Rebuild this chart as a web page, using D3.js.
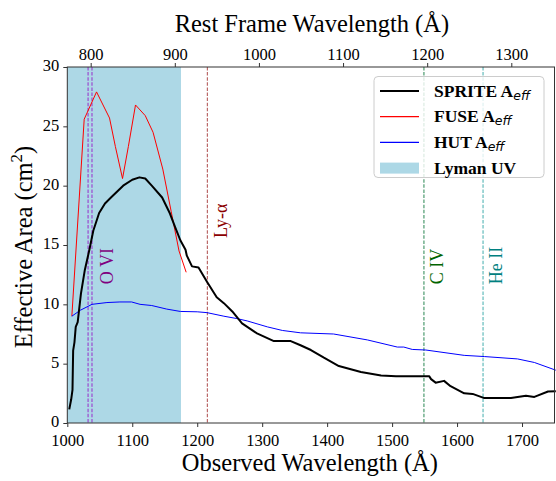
<!DOCTYPE html>
<html><head><meta charset="utf-8">
<script src="https://cdn.jsdelivr.net/npm/d3@7"></script>
<style>body{margin:0;background:#fff}svg{display:block}text{font-family:"Liberation Serif","Times New Roman",serif}</style>
</head><body><svg id="c" width="556" height="481"></svg>
<script>
const spriteWl = [1003,1006,1008,1009,1011,1013,1016,1021,1027,1034,1040,1049,1058,1068,1086,1100,1111,1120,1130,1146,1158,1166,1174,1182,1184,1192,1202,1215,1230,1241,1254,1269,1292,1318,1344,1359,1375,1395,1418,1452,1483,1506,1557,1560,1567,1580,1590,1611,1624,1642,1683,1706,1719,1740,1752];
const spriteA  = [1.15,2.0,2.8,6.1,6.8,8.1,8.5,10.9,12.9,14.6,16.2,17.7,18.5,19.05,20.0,20.5,20.7,20.6,20.0,19.0,17.65,16.5,15.4,14.6,14.1,13.2,13.1,11.9,10.6,10.1,9.4,8.4,7.55,6.9,6.9,6.55,6.15,5.5,4.8,4.3,4.0,3.95,3.95,3.7,3.4,3.55,3.1,2.5,2.45,2.1,2.1,2.3,2.2,2.65,2.67];
const fuseWl = [1007,1026,1045,1065,1074,1085,1094,1105,1120,1132,1147,1160,1172,1183];
const fuseA  = [9.0,25.6,27.9,25.7,23.3,20.6,23.3,26.8,25.9,24.5,21.4,17.8,14.5,12.7];
const hutWl = [1007,1020,1038,1061,1081,1099,1112,1130,1153,1174,1200,1215,1241,1261,1277,1308,1331,1359,1410,1462,1508,1518,1531,1552,1611,1642,1693,1719,1752];
const hutA  = [9.0,9.5,10.0,10.15,10.2,10.2,10.0,9.9,9.6,9.4,9.37,9.3,9.0,8.8,8.6,8.1,7.8,7.6,7.5,7.0,6.4,6.4,6.2,6.15,5.7,5.6,5.4,5.1,4.45];
const lymanBand = [1000,1175];
const lineNames = ["O VI","","Ly-α","C IV","He II"];
const lineWl = [1032,1038,1215.67,1549,1640];
const lineLabelY = [11.7,0,15.6,11.7,11.7];
const lineColors = ["#9932cc","#9932cc","#b05050","#2e8b57","#48b0b0"];
const textColors = ["#800080","#800080","#8b0000","#006400","#008080"];
const xTicks = [1000,1100,1200,1300,1400,1500,1600,1700];
const topTicks = [800,900,1000,1100,1200,1300];
const yTicks = [0,5,10,15,20,25,30];
const onePlusZ = 1.295;
const legendNames = ["SPRITE A","FUSE A","HUT A","Lyman UV"];

const svg = d3.select("#c");
const L=67.3,R=554.5,T=67,B=423;
const x = d3.scaleLinear().domain([1000,1750]).range([L,R]);
const xTop = d3.scaleLinear().domain([1000/onePlusZ,1750/onePlusZ]).range([L,R]);
const y = d3.scaleLinear().domain([0,30]).range([B,T]);

svg.append("rect").attr("x",x(lymanBand[0])).attr("y",T).attr("width",x(lymanBand[1])-x(lymanBand[0])).attr("height",B-T).attr("fill","#add8e6");

lineWl.forEach((w,i)=>{
  svg.append("line").attr("x1",x(w)).attr("x2",x(w)).attr("y1",T).attr("y2",B)
    .attr("stroke",lineColors[i]).attr("stroke-width",1.2).attr("stroke-dasharray","3.5,1.6").attr("opacity",0.85);
});

const ln = d3.line().x(d=>x(d[0])).y(d=>y(d[1]));
svg.append("path").datum(fuseWl.map((w,i)=>[w,fuseA[i]])).attr("d",ln).attr("fill","none").attr("stroke","#ff0000").attr("stroke-width",1);
svg.append("path").datum(hutWl.map((w,i)=>[w,hutA[i]])).attr("d",ln).attr("fill","none").attr("stroke","#0000ff").attr("stroke-width",1);
svg.append("path").datum(spriteWl.map((w,i)=>[w,spriteA[i]])).attr("d",ln).attr("fill","none").attr("stroke","#000").attr("stroke-width",2).attr("stroke-linejoin","round");

lineNames.forEach((n,i)=>{
  if(!n) return;
  const px = x(lineWl[i===0?1:i]) + (i===0?21:(i===2?20:19));
  svg.append("text").attr("transform",`translate(${px},${y(lineLabelY[i])}) rotate(-90)`)
    .attr("fill",textColors[i]).attr("font-size",18).text(n);
});

// axes
const ax = svg.append("g").attr("transform",`translate(0,${B})`).call(d3.axisBottom(x).tickValues(xTicks).tickSize(4).tickFormat(d3.format("d")));
const at = svg.append("g").attr("transform",`translate(0,${T})`).call(d3.axisTop(xTop).tickValues(topTicks).tickSize(4).tickFormat(d3.format("d")));
const ay = svg.append("g").attr("transform",`translate(${L},0)`).call(d3.axisLeft(y).tickValues(yTicks).tickSize(4).tickFormat(d3.format("d")));
[ax,at,ay].forEach(g=>{g.select(".domain").remove();g.selectAll("line").attr("stroke","#333");g.selectAll("text").attr("font-size",16.5).attr("fill","#000").style("font-family",'"Liberation Serif",serif');});
ax.selectAll("text").attr("dy","0.97em");
ay.selectAll("text").attr("dx","-1px").attr("dy","0.24em");
svg.append("rect").attr("x",L).attr("y",T).attr("width",R-L).attr("height",B-T).attr("fill","none").attr("stroke","#333").attr("stroke-width",1);

svg.append("text").attr("x",(L+R)/2 - 1).attr("y",471).attr("text-anchor","middle").attr("font-size",24.5).text("Observed Wavelength (Å)");
svg.append("text").attr("x",(L+R)/2 + 1).attr("y",32).attr("text-anchor","middle").attr("font-size",24.5).text("Rest Frame Wavelength (Å)");
const yl = svg.append("text").attr("transform",`translate(32,${(T+B)/2 + 2}) rotate(-90)`).attr("text-anchor","middle").attr("font-size",24.5).text("Effective Area (cm");
yl.append("tspan").attr("font-size",17).attr("dy",-10).text("2");
yl.append("tspan").attr("dy",10).text(")");

// legend
const lg = svg.append("g");
lg.append("rect").attr("x",374).attr("y",76.5).attr("width",170).attr("height",101).attr("rx",4).attr("fill","#fff").attr("fill-opacity",0.8).attr("stroke","#ccc");
const lc = ["#000","#ff0000","#0000ff",null];
legendNames.forEach((n,i)=>{
  const yy = 91 + i*25.7;
  if(lc[i]) lg.append("line").attr("x1",380).attr("x2",419).attr("y1",yy).attr("y2",yy).attr("stroke",lc[i]).attr("stroke-width",i===0?2:1.2);
  else lg.append("rect").attr("x",380).attr("y",yy-5.5).attr("width",39).attr("height",11).attr("fill","#add8e6");
  const t = lg.append("text").attr("x",434).attr("y",yy+5.7).attr("font-size",17.5).attr("font-weight","bold").text(n);
  if(i<3) t.append("tspan").attr("font-size",12.5).attr("dy",3).attr("font-style","italic").attr("font-weight","normal").style("font-family","'DejaVu Sans',sans-serif").text("eff");
});
</script></body></html>
